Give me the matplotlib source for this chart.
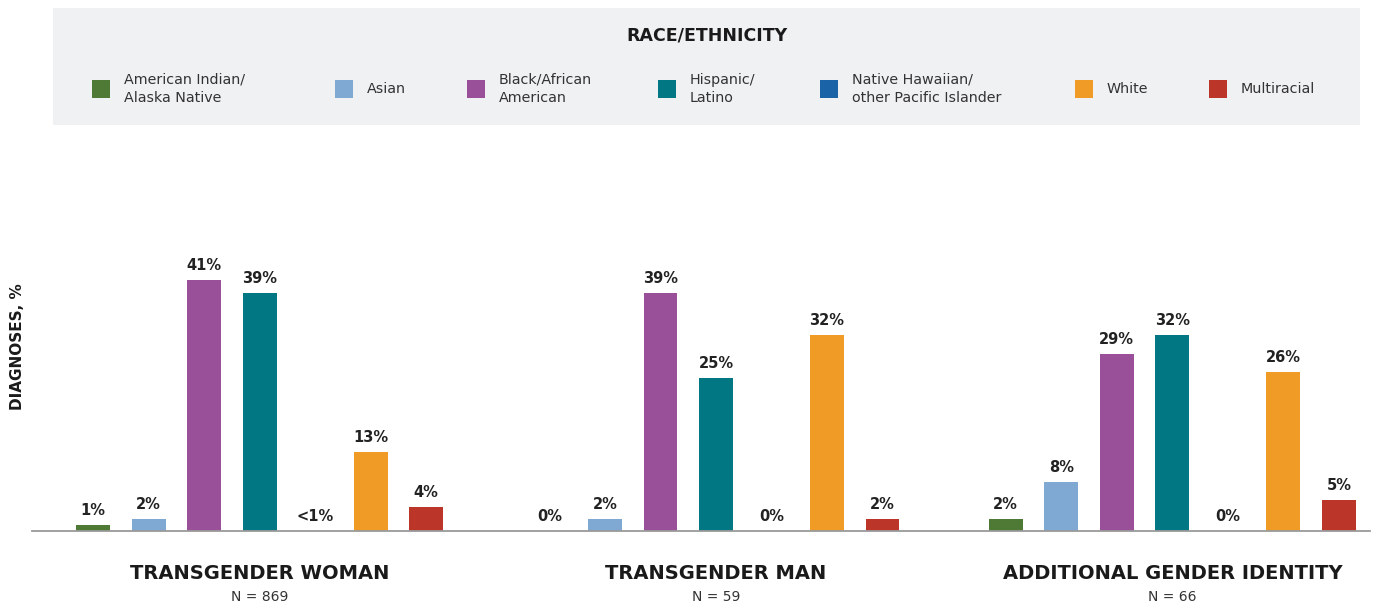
import numpy as np
import matplotlib
matplotlib.use("Agg")
import matplotlib.pyplot as plt
from matplotlib.patches import Rectangle

# data
races = ["American Indian/\nAlaska Native", "Asian", "Black/African\nAmerican",
         "Hispanic/\nLatino", "Native Hawaiian/\nother Pacific Islander", "White", "Multiracial"]
colors = ["#4f7a35", "#7fa9d3", "#9a4f99", "#007783", "#1a63a6", "#ef9b25", "#bb3529"]

groups = ["TRANSGENDER WOMAN", "TRANSGENDER MAN", "ADDITIONAL GENDER IDENTITY"]
group_n = [869, 59, 66]

woman = [1, 2, 41, 39, 0, 13, 4]
man = [0, 2, 39, 25, 0, 32, 2]
additional = [2, 8, 29, 32, 0, 26, 5]

woman_labels = ["1%", "2%", "41%", "39%", "<1%", "13%", "4%"]
man_labels = ["0%", "2%", "39%", "25%", "0%", "32%", "2%"]
additional_labels = ["2%", "8%", "29%", "32%", "0%", "26%", "5%"]

W, H = 1389, 604
fig = plt.figure(figsize=(W / 100, H / 100), dpi=100)
fig.patch.set_facecolor("white")

def fx(x):
    return x / W

def fy(y):
    return 1 - y / H

# legend panel
lax = fig.add_axes([fx(53), fy(125), fx(1360) - fx(53), fy(8) - fy(125)])
lax.set_facecolor("#f0f1f3")
lax.set_xticks([])
lax.set_yticks([])
for s in lax.spines.values():
    s.set_visible(False)

fig.text(fx(707), fy(35), "RACE/ETHNICITY", ha="center", va="center",
         fontsize=12.5, fontweight="bold", color="#1a1a1a")
sq_x = [92, 335, 467, 658, 820, 1075, 1209]
for xs, name, c in zip(sq_x, races, colors):
    fig.patches.append(Rectangle((fx(xs), fy(98)), fx(18), fy(80) - fy(98),
                                 transform=fig.transFigure, facecolor=c,
                                 edgecolor="none", figure=fig))
    fig.text(fx(xs + 32), fy(89), name, ha="left", va="center",
             fontsize=10.3, color="#333333", linespacing=1.4)

# main bar axes
ax = fig.add_axes([fx(32), fy(531), fx(1370) - fx(32), fy(256) - fy(531)])
ax.set_ylim(0, 45)
spacing = 1.0
gap = 8.22
ax.set_xlim(-1.10, 23.0)
width = 0.61

series = [woman, man, additional]
series_labels = [woman_labels, man_labels, additional_labels]
idx = np.arange(len(races))
for g, (vals, labs) in enumerate(zip(series, series_labels)):
    xs = g * gap + idx * spacing
    bars = ax.bar(xs, vals, width=width, color=colors, edgecolor="none", zorder=2)
    for b, lab in zip(bars, labs):
        ax.annotate(lab, (b.get_x() + b.get_width() / 2, b.get_height()),
                    xytext=(0, 5), textcoords="offset points", ha="center",
                    va="bottom", fontsize=10.5, fontweight="bold", color="#222222")
    cx = g * gap + 3 * spacing
    ax.text(cx, -0.153, groups[g], transform=ax.get_xaxis_transform(),
            ha="center", va="center", fontsize=14, fontweight="bold", color="#1a1a1a")
    ax.text(cx, -0.24, "N = %d" % group_n[g], transform=ax.get_xaxis_transform(),
            ha="center", va="center", fontsize=10, color="#333333")

for s in ["top", "right", "left"]:
    ax.spines[s].set_visible(False)
ax.spines["bottom"].set_color("#9a9a9a")
ax.spines["bottom"].set_linewidth(1.3)
ax.set_xticks([])
ax.set_yticks([])
ax.patch.set_visible(False)

fig.text(fx(18), fy(347), "DIAGNOSES, %", rotation=90, ha="center", va="center",
         fontsize=11, fontweight="bold", color="#1a1a1a")

fig.savefig("out.png", dpi=100)
